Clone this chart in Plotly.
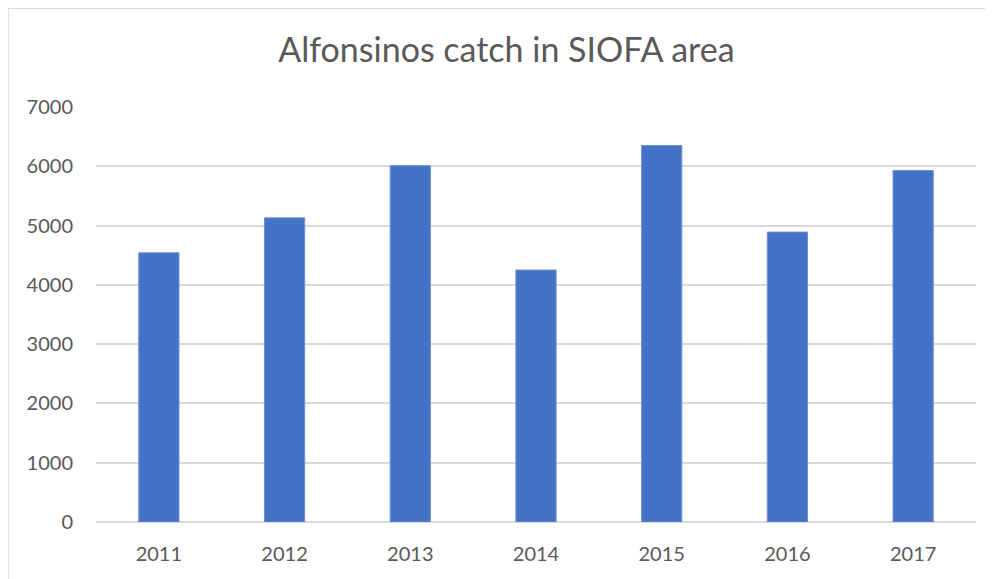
import plotly.graph_objects as go

years = ["2011", "2012", "2013", "2014", "2015", "2016", "2017"]
catch_t = [4540, 5130, 6010, 4250, 6350, 4890, 5930]
y_ticks = [0, 1000, 2000, 3000, 4000, 5000, 6000, 7000]

fig = go.Figure(
    go.Bar(
        x=years,
        y=catch_t,
        marker=dict(color="#4472C4", line=dict(color="#6F8FD3", width=1)),
        hoverinfo="x+y",
    )
)

# page body has an 8px margin, so the figure is a bit smaller than the window
fig.update_layout(
    width=985,
    height=571,
    margin=dict(l=88, r=17, t=99, b=57),
    paper_bgcolor="white",
    plot_bgcolor="white",
    font=dict(family="Lato, Carlito, sans-serif", color="#595959", size=20),
    title=dict(
        text="Alfonsinos catch in SIOFA area",
        x=0.506,
        xanchor="center",
        y=0.926,
        yanchor="middle",
        font=dict(size=34, color="#595959"),
    ),
    bargap=0.68,
    showlegend=False,
)

fig.update_xaxes(
    showgrid=False,
    showline=False,
    ticks="",
    ticklabelstandoff=18,
)

fig.update_yaxes(
    range=[0, 7000],
    tickvals=y_ticks,
    showgrid=True,
    gridcolor="#D9D9D9",
    gridwidth=1.5,
    zeroline=True,
    zerolinecolor="#D9D9D9",
    zerolinewidth=1.5,
    showline=False,
    ticks="",
    ticklabelstandoff=22,
)

# chart border
fig.add_shape(
    type="rect",
    xref="paper",
    yref="paper",
    x0=-0.1,
    x1=1.04,
    y0=-0.2,
    y1=1.238,
    line=dict(color="#D9D9D9", width=1.5),
    layer="below",
)

fig.write_html("out.html")
